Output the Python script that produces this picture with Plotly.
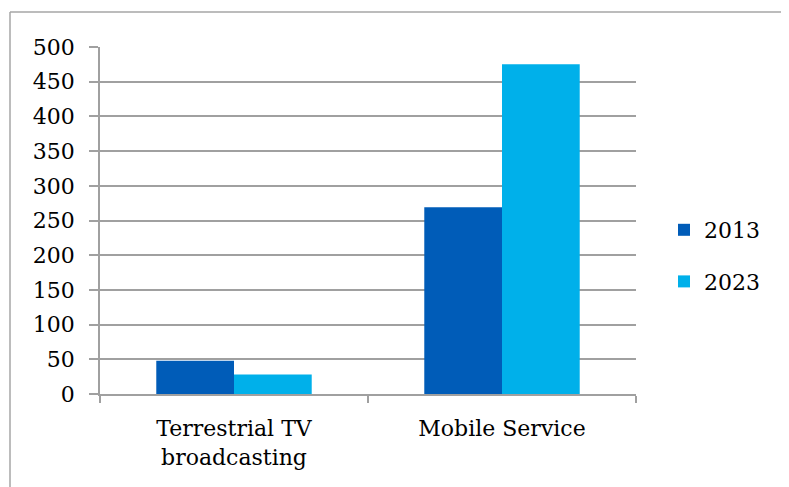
import plotly.graph_objects as go

categories = ["Terrestrial TV<br>broadcasting", "Mobile Service"]
series_names = ["2013", "2023"]
values_2013 = [48, 269]
values_2023 = [28, 475]
y_ticks = [0, 50, 100, 150, 200, 250, 300, 350, 400, 450, 500]

colors = ["#005cb8", "#00b0ea"]
FONT = "DejaVu Serif"

# page has an 8px body margin; work in figure coordinates
OFF = 8
W, H = 789 - OFF, 487 - OFF
L, R, T, B = 100 - OFF, 636 - OFF, 47 - OFF, 394 - OFF

fig = go.Figure()
for name, vals, col, grp in zip(series_names, [values_2013, values_2023], colors, ["a", "b"]):
    fig.add_trace(go.Bar(x=categories, y=vals, name=name, marker=dict(color=col, line=dict(width=0)),
                         legendgroup=grp))

def px2paper_x(px):
    return (px - OFF - L) / (R - L)

def px2paper_y(py):
    return (B - (py - OFF)) / (B - T)

fig.update_layout(
    width=W, height=H,
    margin=dict(l=L, r=W - R, t=T, b=H - B, pad=0),
    paper_bgcolor="white", plot_bgcolor="white",
    barmode="group", bargap=0.42, bargroupgap=0,
    font=dict(family=FONT, size=22, color="black"),
    showlegend=True,
    legend=dict(x=px2paper_x(664), xanchor="left", y=px2paper_y(256), yanchor="middle",
                traceorder="grouped", tracegroupgap=20, itemwidth=30,
                font=dict(family=FONT, size=22, color="black"), bgcolor="rgba(0,0,0,0)"),
    xaxis=dict(type="category", showline=True, linecolor="#a0a0a0", linewidth=1.5,
               ticks="outside", tickson="boundaries", ticklen=7, tickcolor="#a0a0a0", tickwidth=1.5,
               showgrid=False, ticklabelstandoff=14,
               tickfont=dict(family=FONT, size=22, color="black"), fixedrange=True),
    yaxis=dict(range=[0, 500], tickvals=y_ticks, showline=True, linecolor="#a0a0a0", linewidth=1.5,
               ticks="outside", ticklen=9, tickcolor="#a0a0a0", tickwidth=1.5,
               showgrid=True, gridcolor="#a0a0a0", gridwidth=1.5, zeroline=False,
               ticklabelstandoff=10,
               tickfont=dict(family=FONT, size=22, color="black")),
    shapes=[
        dict(type="line", xref="paper", yref="paper",
             x0=px2paper_x(10), x1=px2paper_x(10), y0=px2paper_y(495), y1=px2paper_y(12),
             line=dict(color="#a6a6a6", width=1.5)),
        dict(type="line", xref="paper", yref="paper",
             x0=px2paper_x(10), x1=px2paper_x(800), y0=px2paper_y(12), y1=px2paper_y(12),
             line=dict(color="#a6a6a6", width=1.5)),
    ],
)

fig.write_html("out.html")
